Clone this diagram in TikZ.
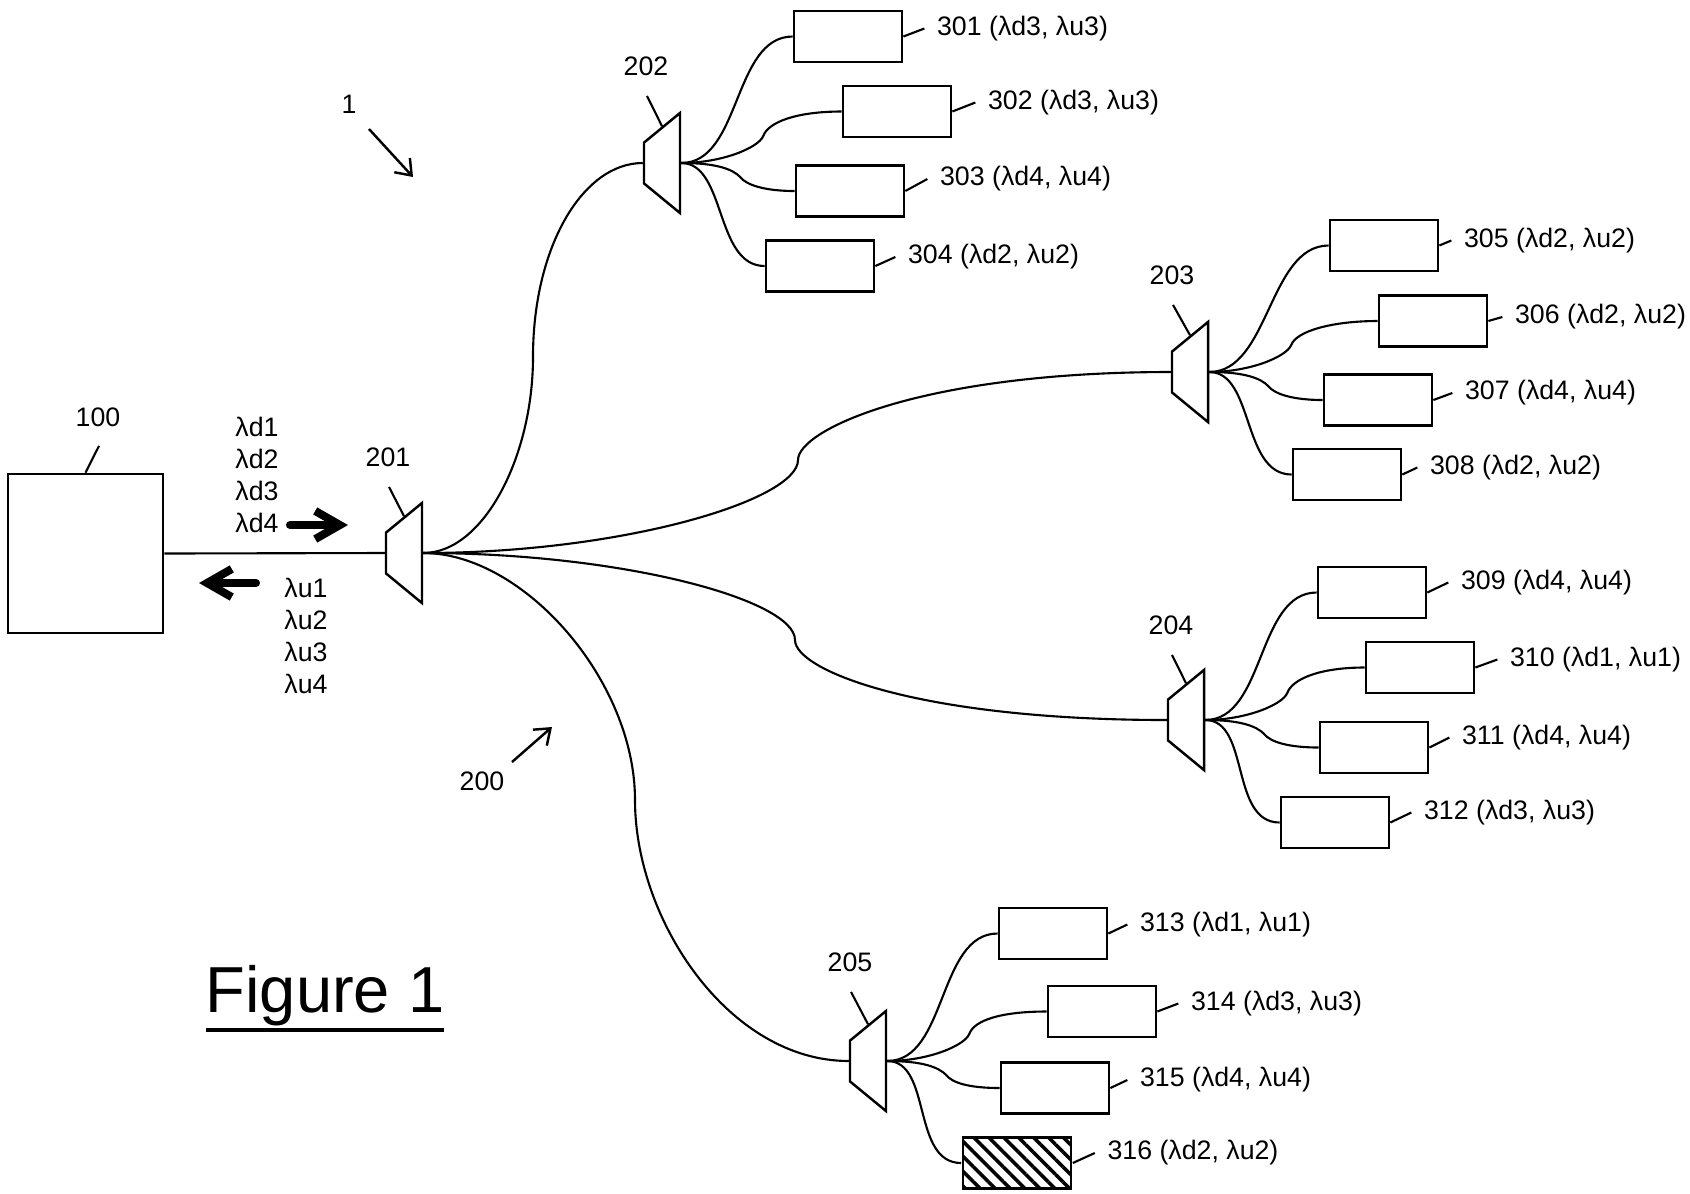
\documentclass[tikz,border=0pt]{standalone}
\usepackage{fontspec}
\setmainfont{Liberation Sans}
\usetikzlibrary{arrows.meta,positioning,shapes.geometric,patterns.meta}
\newcommand{\figline}[1]{\vtop{\hbox{#1}\kern0.6pt\hrule height 1.3pt}}

\begin{document}
\begin{tikzpicture}[
  x=0.01cm, y=-0.01cm,
  font=\fontsize{7.6pt}{9.1pt}\selectfont,
  unit/.style={
    rectangle, draw=black, line width=0.75pt,
    minimum width=1.08cm, minimum height=0.51cm,
    inner sep=0pt
  },
  mux/.style={
    trapezium, draw=black, line width=0.7pt,
    trapezium left angle=54, trapezium right angle=54,
    trapezium stretches=true,
    minimum width=1cm, minimum height=0.36cm,
    inner sep=0.5pt, rotate=90
  },
  fibre/.style={line width=0.6pt},
  lead/.style={line width=0.6pt},
  flow/.style={-{Straight Barb[length=7pt,width=8pt]}, line width=2.3pt, line cap=round},
  ref/.style={-{Straight Barb[length=4pt,width=6pt]}, line width=0.7pt}
]
\useasboundingbox (0,0) rectangle (1690,1193);

% Head end
\node[unit, minimum width=1.55cm, minimum height=1.59cm] (n100) at (85.5,553.5) {};
\node (t100) at (98,417) {100};
\draw[lead] ([shift={(1,7)}]t100.south) -- (n100.north);

% Splitters
\node[mux] (s201) at (404,553) {};
\node[mux] (s202) at (662,163) {};
\node[mux] (s203) at (1190,372) {};
\node[mux] (s204) at (1186,720) {};
\node[mux] (s205) at (868,1061) {};

\node (t201) at (388,457) {201};
\node (t202) at (646,66) {202};
\node (t203) at (1172,275) {203};
\node (t204) at (1171,625) {204};
\node (t205) at (850,962) {205};
\draw[lead] ([shift={(1,8)}]t201.south) -- (s201.right side);
\draw[lead] ([shift={(1,8)}]t202.south) -- (s202.right side);
\draw[lead] ([shift={(1,8)}]t203.south) -- (s203.right side);
\draw[lead] ([shift={(1,8)}]t204.south) -- (s204.right side);
\draw[lead] ([shift={(1,8)}]t205.south) -- (s205.right side);

% Trunk
\draw[fibre] (n100.east) -- (s201.north);
\draw[fibre] (s201.south) .. controls +(60,0) and +(0,100) .. (533,357)
  .. controls +(0,-110) and +(-60,0) .. (s202.north);
\draw[fibre] (s201.south) .. controls +(200,0) and +(0,40) .. (798,460)
  .. controls +(0,-30) and +(-250,0) .. (s203.north);
\draw[fibre] (s201.south) .. controls +(200,0) and +(0,-40) .. (795,640)
  .. controls +(0,30) and +(-250,0) .. (s204.north);
\draw[fibre] (s201.south) .. controls +(100,0) and +(0,-120) .. (635,800)
  .. controls +(0,120) and +(-120,0) .. (s205.north);

% Wavelengths
\node[align=left, anchor=west] (down) at (223,475) {λd1\\λd2\\λd3\\λd4};
\node[align=left, anchor=west] (up) at (272,636) {λu1\\λu2\\λu3\\λu4};
\coordinate (dtail) at (290,525);
\coordinate (dhead) at (348,525);
\coordinate (utail) at (256,583);
\coordinate (uhead) at (199,583);
\draw[flow] (dtail) -- (dhead);
\draw[flow] (utail) -- (uhead);

% Network units, splitter 202
\node[unit] (u301) at (848,36.5) {};
\node[unit] (u302) at (897,111.5) {};
\node[unit] (u303) at (850,191) {};
\node[unit] (u304) at (820,266) {};
\draw[fibre] (s202.south) .. controls +(60,0) and +(-60,0) .. (u301.west);
\draw[fibre] (s202.south) .. controls +(40,0) and +(-5,12) .. ++(82,-27)
  .. controls +(5,-14) and +(-45,0) .. (u302.west);
\draw[fibre] (s202.south) .. controls +(35,0) and +(-8,-8) .. ++(59,14)
  .. controls +(6,8) and +(-30,0) .. (u303.west);
\draw[fibre] (s202.south) .. controls +(45,0) and +(-50,0) .. (u304.west);
\draw[lead] (u301.east) -- ++(21,-8) node[right] (l301) {301 (λd3, λu3)};
\draw[lead] (u302.east) -- ++(23,-9) node[right] (l302) {302 (λd3, λu3)};
\draw[lead] (u303.east) -- ++(22,-12) node[right] (l303) {303 (λd4, λu4)};
\draw[lead] (u304.east) -- ++(20,-9) node[right] (l304) {304 (λd2, λu2)};

% Network units, splitter 203
\node[unit] (u305) at (1384,245.5) {};
\node[unit] (u306) at (1433,321) {};
\node[unit] (u307) at (1378,400) {};
\node[unit] (u308) at (1347,474.5) {};
\draw[fibre] (s203.south) .. controls +(60,0) and +(-60,0) .. (u305.west);
\draw[fibre] (s203.south) .. controls +(40,0) and +(-5,12) .. ++(82,-27)
  .. controls +(5,-14) and +(-45,0) .. (u306.west);
\draw[fibre] (s203.south) .. controls +(35,0) and +(-8,-8) .. ++(59,14)
  .. controls +(6,8) and +(-30,0) .. (u307.west);
\draw[fibre] (s203.south) .. controls +(45,0) and +(-50,0) .. (u308.west);
\draw[lead] (u305.east) -- ++(12,-5) node[right] (l305) {305 (λd2, λu2)};
\draw[lead] (u306.east) -- ++(14,-4) node[right] (l306) {306 (λd2, λu2)};
\draw[lead] (u307.east) -- ++(19,-7) node[right] (l307) {307 (λd4, λu4)};
\draw[lead] (u308.east) -- ++(15,-7) node[right] (l308) {308 (λd2, λu2)};

% Network units, splitter 204
\node[unit] (u309) at (1372,592.5) {};
\node[unit] (u310) at (1420,667.5) {};
\node[unit] (u311) at (1374,747.5) {};
\node[unit] (u312) at (1335,822.5) {};
\draw[fibre] (s204.south) .. controls +(60,0) and +(-60,0) .. (u309.west);
\draw[fibre] (s204.south) .. controls +(40,0) and +(-5,12) .. ++(82,-27)
  .. controls +(5,-14) and +(-45,0) .. (u310.west);
\draw[fibre] (s204.south) .. controls +(35,0) and +(-8,-8) .. ++(59,14)
  .. controls +(6,8) and +(-30,0) .. (u311.west);
\draw[fibre] (s204.south) .. controls +(45,0) and +(-50,0) .. (u312.west);
\draw[lead] (u309.east) -- ++(21,-10) node[right] (l309) {309 (λd4, λu4)};
\draw[lead] (u310.east) -- ++(22,-8) node[right] (l310) {310 (λd1, λu1)};
\draw[lead] (u311.east) -- ++(20,-10) node[right] (l311) {311 (λd4, λu4)};
\draw[lead] (u312.east) -- ++(21,-10) node[right] (l312) {312 (λd3, λu3)};

% Network units, splitter 205
\node[unit] (u313) at (1053,933.5) {};
\node[unit] (u314) at (1102,1011.5) {};
\node[unit] (u315) at (1055,1088) {};
\node[unit, pattern={Lines[angle=-45,distance=3pt,line width=1pt]}] (u316) at (1017,1163) {};
\draw[fibre] (s205.south) .. controls +(60,0) and +(-60,0) .. (u313.west);
\draw[fibre] (s205.south) .. controls +(40,0) and +(-5,12) .. ++(82,-27)
  .. controls +(5,-14) and +(-45,0) .. (u314.west);
\draw[fibre] (s205.south) .. controls +(35,0) and +(-8,-8) .. ++(59,14)
  .. controls +(6,8) and +(-30,0) .. (u315.west);
\draw[fibre] (s205.south) .. controls +(45,0) and +(-50,0) .. (u316.west);
\draw[lead] (u313.east) -- ++(19,-9) node[right] (l313) {313 (λd1, λu1)};
\draw[lead] (u314.east) -- ++(21,-8) node[right] (l314) {314 (λd3, λu3)};
\draw[lead] (u315.east) -- ++(17,-8) node[right] (l315) {315 (λd4, λu4)};
\draw[lead] (u316.east) -- ++(22,-10) node[right] (l316) {316 (λd2, λu2)};

% Reference numerals
\node (t1) at (349,104) {1};
\coordinate (p1) at (413,177);
\draw[ref] ([shift={(20,25)}]t1.center) -- (p1);
\node (t200) at (482,781) {200};
\coordinate (p200) at (552,727);
\draw[ref] ([shift={(30,-19)}]t200.center) -- (p200);

% Caption
\node[font=\fontsize{18.5pt}{22pt}\selectfont, anchor=base] (fig) at (325,1012) {\figline{Figure 1}};
\end{tikzpicture}
\end{document}
